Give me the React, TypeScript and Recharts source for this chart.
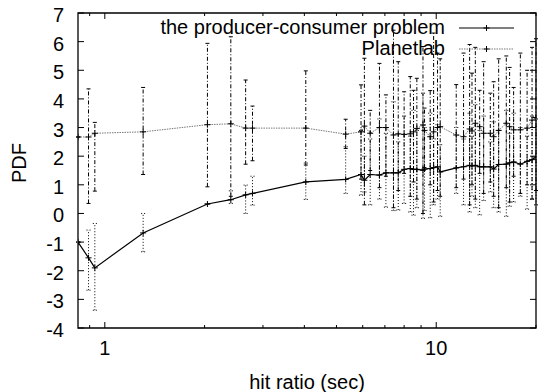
import React from "react";
import { LineChart, Line, XAxis, YAxis, ErrorBar, ReferenceArea, Label } from "recharts";

// ---- data ----
const xValues = [0.83, 0.893, 0.933, 1.305, 2.04, 2.4, 2.66, 2.79, 4.04, 5.33, 5.93, 6.07, 6.32, 6.74, 7.05, 7.43, 7.68, 8.0, 8.35, 8.54, 8.74, 9.12, 9.22, 9.59, 9.82, 10.09, 10.28, 11.49, 12.09, 12.61, 12.82, 13.12, 13.52, 13.9, 14.56, 14.9, 15.43, 16.27, 16.65, 17.12, 17.94, 18.8, 19.46, 20];

const producerConsumer = [-1.0, -1.55, -1.9, -0.68, 0.33, 0.48, 0.65, 0.7, 1.1, 1.19, 1.36, 1.16, 1.36, 1.34, 1.42, 1.42, 1.42, 1.54, 1.57, 1.54, 1.54, 1.51, 1.55, 1.57, 1.6, 1.63, 1.45, 1.59, 1.63, 1.68, 1.66, 1.68, 1.63, 1.63, 1.63, 1.55, 1.71, 1.72, 1.77, 1.8, 1.72, 1.82, 1.88, 1.97];
const producerConsumerLow = [-1.0, -2.68, -3.38, -1.34, 0.33, 0.35, 0.0, 0.29, 0.49, 0.7, 0.64, 0.75, 0.3, 0.5, 0.22, 0.1, 0.12, 0.35, 0.05, -0.06, 0.2, -0.17, 0.1, -0.15, 0.3, 0.5, -0.1, 0.7, 0.3, 0.05, 0.6, 0.2, -0.05, 0.45, 0.75, 0.2, 0.05, -0.1, 0.25, 0.4, 0.6, 0.15, 0.5, 0.3];
const producerConsumerHigh = [-1.0, -0.58, -0.35, 0.0, 0.33, 0.79, 0.99, 1.3, 1.76, 2.33, 2.9, 2.0, 2.6, 3.3, 2.8, 3.9, 2.5, 3.4, 2.7, 3.6, 2.9, 4.2, 3.0, 3.5, 2.6, 3.1, 2.4, 3.0, 2.6, 3.5, 2.7, 3.8, 2.9, 3.4, 2.5, 3.2, 2.9, 3.6, 2.8, 3.5, 3.0, 2.7, 3.4, 3.3];

const planetlab = [2.67, 2.67, 2.8, 2.85, 3.1, 3.13, 2.98, 2.98, 2.98, 2.77, 2.85, 3.05, 2.8, 3.0, 3.0, 2.74, 2.78, 2.76, 2.78, 2.85, 2.97, 3.09, 2.9, 2.68, 2.85, 3.0, 3.03, 2.74, 2.68, 2.95, 2.88, 3.15, 3.03, 2.8, 2.8, 2.68, 2.9, 3.15, 3.03, 2.92, 2.92, 2.98, 3.26, 3.35];
const planetlabLow = [2.67, 0.35, 0.78, 1.36, 0.93, 0.6, 1.72, 1.84, 1.69, 2.27, 1.2, 0.3, 1.5, 0.9, 1.3, 0.2, 0.8, 1.4, 0.6, 1.1, 0.5, 0.0, 1.6, 1.0, 0.4, 0.8, 0.6, 0.9, 1.2, 0.3, 1.0, 0.5, 1.4, 0.7, 1.1, 0.6, 0.2, 0.9, 0.4, 1.3, 0.7, 1.0, 0.5, 0.8];
const planetlabHigh = [2.67, 4.35, 3.18, 4.4, 5.94, 6.17, 4.66, 3.75, 4.98, 3.29, 4.49, 5.42, 3.6, 5.24, 4.14, 6.4, 5.3, 4.25, 4.78, 4.3, 4.72, 5.83, 3.68, 4.29, 6.3, 5.6, 5.4, 4.5, 5.6, 5.9, 4.9, 5.8, 4.3, 5.3, 4.2, 4.6, 5.4, 5.5, 5.1, 4.4, 5.6, 5.0, 5.8, 6.1];

const xTicks = [0.9, 1, 2, 3, 4, 5, 6, 7, 8, 9, 10, 20];
const xLabeled = [1, 10];
const yTicks = [-4, -3, -2, -1, 0, 1, 2, 3, 4, 5, 6, 7];

const seriesNames = ["the producer-consumer problem", "Planetlab"];
const xTitle = "hit ratio (sec)";
const yTitle = "PDF";

const data = xValues.map((x, i) => ({
  x,
  pc: producerConsumer[i],
  pl: planetlab[i],
  pcErr: [producerConsumer[i] - producerConsumerLow[i], producerConsumerHigh[i] - producerConsumer[i]],
  plErr: [planetlab[i] - planetlabLow[i], planetlabHigh[i] - planetlab[i]],
}));

// ---- layout ----
const W = 538;
const H = 392;
const LEFT = 78;
const RIGHT = 536;
const TOP = 13;
const BOTTOM = 328;
const FONT = '"Liberation Sans", Arial, Helvetica, sans-serif';

function XTick(props: any) {
  const { x, payload } = props;
  const v = payload.value;
  const major = xLabeled.includes(v);
  const len = major ? 6 : 3;
  return (
    <g>
      <line x1={x} x2={x} y1={BOTTOM} y2={BOTTOM - len} stroke="#000" strokeWidth={1} />
      <line x1={x} x2={x} y1={TOP} y2={TOP + len} stroke="#000" strokeWidth={1} />
      {major && (
        <text x={x} y={355} textAnchor="middle" fontSize={20} fontFamily={FONT} fill="#000">
          {v}
        </text>
      )}
    </g>
  );
}

function YTick(props: any) {
  const { y, payload } = props;
  return (
    <g>
      <line x1={LEFT} x2={LEFT + 6} y1={y} y2={y} stroke="#000" strokeWidth={1} />
      <line x1={RIGHT} x2={RIGHT - 6} y1={y} y2={y} stroke="#000" strokeWidth={1} />
      <text x={64} y={y + 9} textAnchor="end" fontSize={20} fontFamily={FONT} fill="#000">
        {payload.value}
      </text>
    </g>
  );
}

function Plus(props: any) {
  const { cx, cy } = props;
  if (cx == null || cy == null) return <g />;
  return <path d={`M${cx - 3},${cy}h6M${cx},${cy - 3}v6`} stroke="#000" strokeWidth={1} fill="none" />;
}

export default function App() {
  return (
    <div style={{ position: "absolute", left: 0, top: 0, width: W, height: H, background: "#fff" }}>
      <LineChart width={W} height={H} data={data} margin={{ top: TOP, right: W - RIGHT, bottom: 0, left: 0 }}>
        <XAxis
          dataKey="x"
          type="number"
          scale="log"
          domain={[0.83, 20]}
          allowDataOverflow
          ticks={xTicks}
          interval={0}
          tick={<XTick />}
          tickLine={false}
          axisLine={false}
          height={H - BOTTOM}
        >
          <Label
            content={() => (
              <text x={(LEFT + RIGHT) / 2} y={389} textAnchor="middle" fontSize={20} fontFamily={FONT} fill="#000">
                {xTitle}
              </text>
            )}
          />
        </XAxis>
        <YAxis
          type="number"
          domain={[-4, 7]}
          allowDataOverflow
          ticks={yTicks}
          interval={0}
          tick={<YTick />}
          tickLine={false}
          axisLine={false}
          width={LEFT}
        >
          <Label
            content={() => (
              <text
                x={26}
                y={163}
                transform="rotate(-90, 26, 163)"
                textAnchor="middle"
                fontSize={20}
                fontFamily={FONT}
                fill="#000"
              >
                {yTitle}
              </text>
            )}
          />
        </YAxis>
        <ReferenceArea x1={0.83} x2={20} y1={-4} y2={7} fill="none" stroke="#000" strokeWidth={1.3} ifOverflow="visible" />
        <Line
          dataKey="pl"
          type="linear"
          stroke="#777"
          strokeWidth={1}
          strokeDasharray="1.5 1"
          dot={<Plus />}
          activeDot={false}
          isAnimationActive={false}
        >
          <ErrorBar dataKey="plErr" direction="y" width={2} stroke="#000" strokeWidth={1} strokeDasharray="4 2 1 2" />
        </Line>
        <Line
          dataKey="pc"
          type="linear"
          stroke="#000"
          strokeWidth={1.2}
          dot={<Plus />}
          activeDot={false}
          isAnimationActive={false}
        >
          <ErrorBar dataKey="pcErr" direction="y" width={2} stroke="#000" strokeWidth={1} strokeDasharray="1 2" />
        </Line>
      </LineChart>
      <svg width={W} height={70} style={{ position: "absolute", left: 0, top: 0, pointerEvents: "none" }}>
        <text x={445} y={34} textAnchor="end" fontSize={20} fontFamily={FONT} fill="#000">
          {seriesNames[0]}
        </text>
        <line x1={459} x2={514} y1={28} y2={28} stroke="#000" strokeWidth={1.2} />
        <path d="M483.5,28h6M486.5,25v6" stroke="#000" strokeWidth={1} />
        <text x={445} y={55} textAnchor="end" fontSize={20} fontFamily={FONT} fill="#000">
          {seriesNames[1]}
        </text>
        <line x1={459} x2={514} y1={49} y2={49} stroke="#777" strokeWidth={1} strokeDasharray="1.5 1" />
        <path d="M483.5,49h6M486.5,46v6" stroke="#000" strokeWidth={1} />
      </svg>
    </div>
  );
}
